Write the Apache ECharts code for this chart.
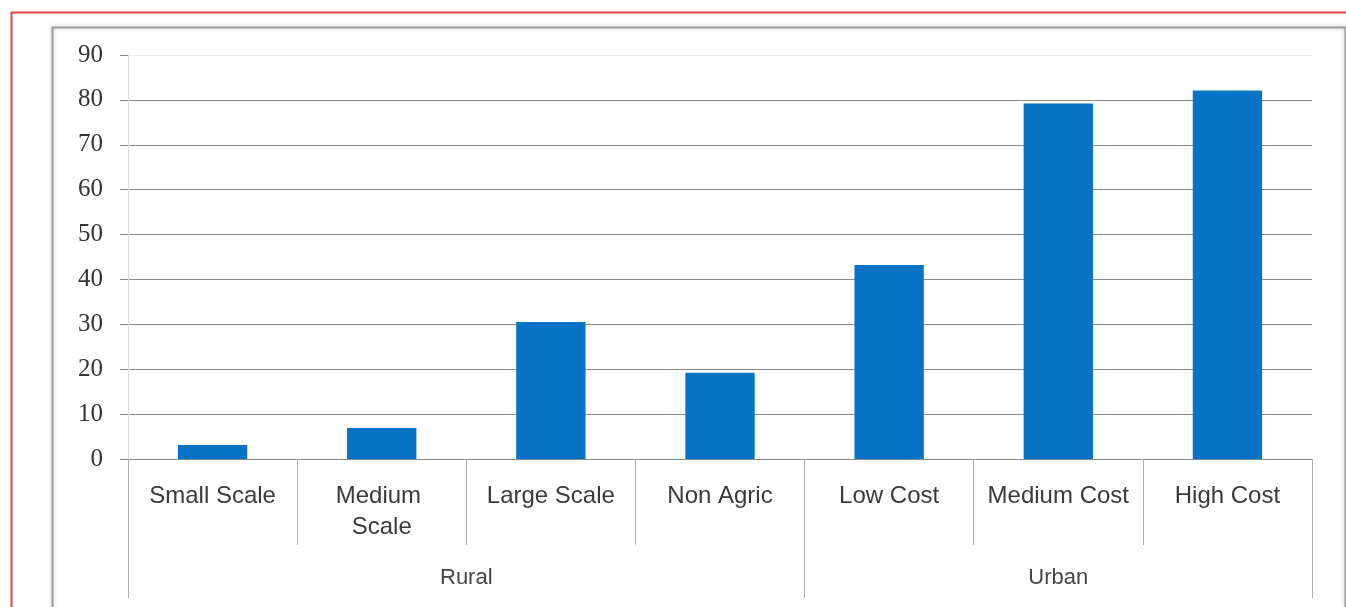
<!DOCTYPE html>
<html>
<head>
<meta charset="utf-8">
<script src="https://cdn.jsdelivr.net/npm/echarts@6/dist/echarts.min.js"></script>
<style>
html,body{margin:0;padding:0;background:#fff;}
#chart{width:1346px;height:607px;}
</style>
</head>
<body>
<div id="chart"></div>
<script>
// ---- data ----
var categories = ['Small Scale', 'Medium Scale', 'Large Scale', 'Non Agric', 'Low Cost', 'Medium Cost', 'High Cost'];
var values = [3.1, 6.9, 30.5, 19.2, 43.2, 79.2, 82.1];
var groupNames = ['Rural', 'Urban'];
var groupSizes = [4, 3];
var yTicks = [0, 10, 20, 30, 40, 50, 60, 70, 80, 90];

// ---- derived group positions (in category units) ----
var groupBounds = [0];
var groupCenters = [];
var acc = 0;
for (var i = 0; i < groupSizes.length; i++) {
  groupCenters.push(acc + groupSizes[i] / 2);
  acc += groupSizes[i];
  groupBounds.push(acc);
}

var chart = echarts.init(document.getElementById('chart'), null, {renderer: 'canvas'});
var gridColors = yTicks.map(function (v, i) { return i === yTicks.length - 1 ? '#ececec' : '#8a8a8a'; });

var option = {
  animation: false,
  backgroundColor: '#ffffff',
  graphic: [
    {type: 'rect', left: 9, top: 10, shape: {x: 0, y: 0, width: 1346, height: 610},
     style: {fill: 'none', stroke: '#E8473E', lineWidth: 2}, silent: true},
    {type: 'rect', left: 50, top: 25, shape: {x: 0, y: 0, width: 1293, height: 600},
     style: {fill: 'none', stroke: '#9c9c9c', lineWidth: 2, shadowBlur: 4, shadowColor: 'rgba(0,0,0,0.25)'}, silent: true}
  ],
  grid: {left: 128, right: 34, top: 55, bottom: 148, containLabel: false},
  xAxis: [
    {
      type: 'category',
      data: categories,
      boundaryGap: true,
      axisLine: {show: true, lineStyle: {color: '#8a8a8a', width: 1}},
      axisTick: {show: true, interval: 0, length: 86, lineStyle: {color: '#b0b0b0', width: 1}},
      axisLabel: {
        interval: 0, margin: 22, color: '#3a3a3a',
        fontFamily: 'Liberation Sans', fontSize: 24,
        width: 150, overflow: 'break', lineHeight: 31
      },
      splitLine: {show: false}
    },
    {
      type: 'value',
      min: 0,
      max: categories.length,
      position: 'bottom',
      offset: 0,
      axisLine: {show: false},
      axisTick: {show: true, customValues: groupBounds, length: 139, lineStyle: {color: '#b0b0b0', width: 1}},
      axisLabel: {
        show: true, customValues: groupCenters, margin: 108,
        color: '#454545', fontFamily: 'Liberation Sans', fontSize: 22,
        formatter: function (v) {
          var idx = groupCenters.indexOf(v);
          return idx >= 0 ? groupNames[idx] : '';
        }
      },
      splitLine: {show: false}
    }
  ],
  yAxis: {
    type: 'value',
    min: yTicks[0],
    max: yTicks[yTicks.length - 1],
    interval: yTicks[1] - yTicks[0],
    axisLine: {show: true, lineStyle: {color: '#dcdcdc', width: 1}},
    axisTick: {show: true, length: 8, lineStyle: {color: '#8a8a8a'}},
    axisLabel: {margin: 25, color: '#333', fontFamily: 'Liberation Serif', fontSize: 25},
    splitLine: {show: true, lineStyle: {color: gridColors, width: 1}}
  },
  series: [
    {
      type: 'bar',
      xAxisIndex: 0,
      data: values,
      barWidth: '41%',
      itemStyle: {color: '#0872C4'}
    }
  ]
};
chart.setOption(option);
</script>
</body>
</html>
